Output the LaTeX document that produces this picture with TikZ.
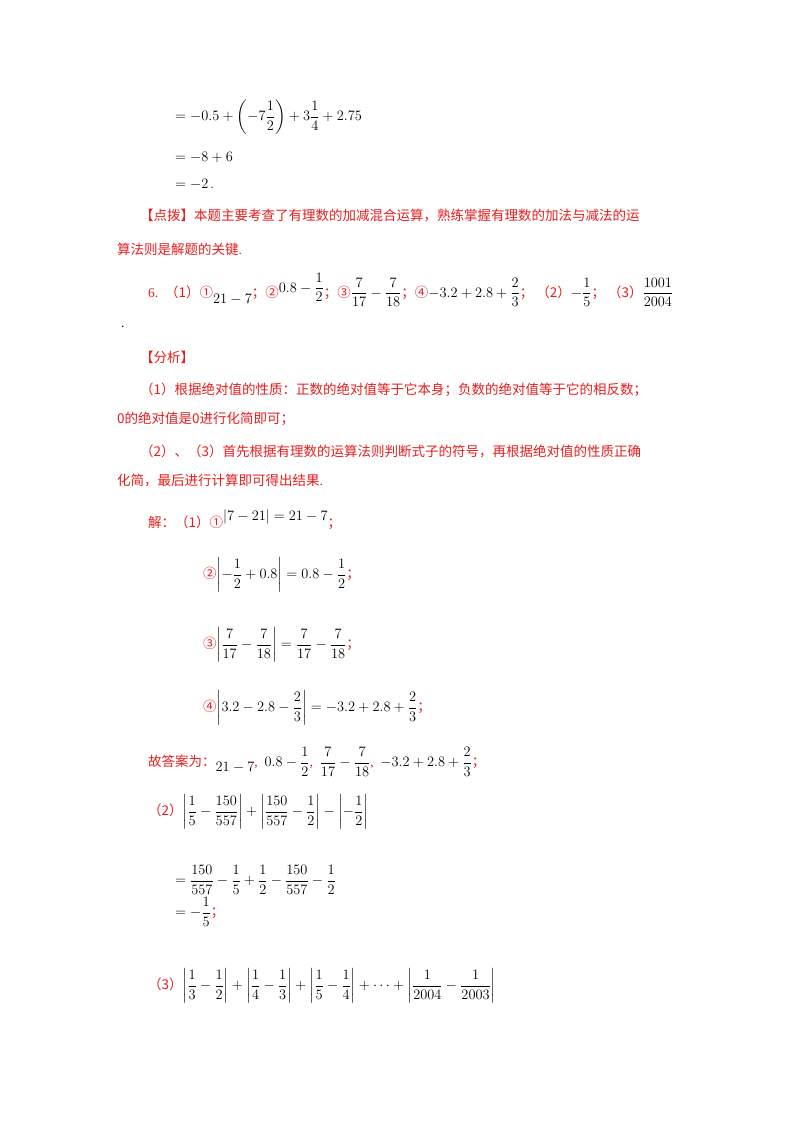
\documentclass[tikz,border=0pt]{standalone}
\usepackage{amsmath}
\usepackage{fontspec}
\setmainfont{Liberation Serif}
\newfontfamily\cjk{Noto Sans CJK SC}
\definecolor{rd}{RGB}{230,30,30}
\newcommand{\zh}[1]{{\cjk #1}}
\begin{document}
\begin{tikzpicture}[x=1pt,y=-1pt,
  t/.style={anchor=west,inner sep=0pt,font=\fontsize{13.5}{16}\selectfont},
  r/.style={t,text=rd}]
\useasboundingbox[fill=white] (0,0) rectangle (800,1132);
\node[t] (l1) at (175,117) {$=-0.5+\left(-7\dfrac12\right)+3\dfrac14+2.75$};
\node[t] (l2) at (175,157) {$=-8+6$};
\node[t] (l3) at (175,184) {$=-2$\textcolor{rd}{\,.}};
\node[r] (d1) at (140,216) {\zh{【点拨】本题主要考查了有理数的加减混合运算，熟练掌握有理数的加法与减法的运}};
\node[r] (d2) at (117,249) {\zh{算法则是解题的关键}.};
\node[t] (q6) at (148,290) {\textcolor{rd}{6.\ \ \zh{（1）①}}\raisebox{-6pt}{$21-7$}\textcolor{rd}{\zh{；②}}\raisebox{5pt}{$0.8-\dfrac12$}\textcolor{rd}{\zh{；③}}$\dfrac{7}{17}-\dfrac{7}{18}$\textcolor{rd}{\zh{；④}}$-3.2+2.8+\dfrac23$\textcolor{rd}{\zh{；\ （2）}}$-\dfrac15$\textcolor{rd}{\zh{；\ （3）}}$\dfrac{1001}{2004}$};
\node[t] (dot) at (121,327) {.};
\node[r] (f0) at (140,357) {\zh{【分析】}};
\node[r] (f1) at (140,390) {\zh{（1）根据绝对值的性质：正数的绝对值等于它本身；负数的绝对值等于它的相反数；}};
\node[r] (f2) at (117,419) {\zh{0的绝对值是0进行化简即可；}};
\node[r] (f3) at (140,451) {\zh{（2）、（3）首先根据有理数的运算法则判断式子的符号，再根据绝对值的性质正确}};
\node[r] (f4) at (117,481) {\zh{化简，最后进行计算即可得出结果}.};
\node[t] (s1) at (148,520) {\textcolor{rd}{\zh{解：（1）①}}\raisebox{7pt}{$|7-21|=21-7$}\textcolor{rd}{\zh{；}}};
\node[t] (s2) at (203,575) {\textcolor{rd}{\zh{②}}$\left|-\dfrac12+0.8\right|=0.8-\dfrac12$\textcolor{rd}{\zh{；}}};
\node[t] (s3) at (203,645) {\textcolor{rd}{\zh{③}}$\left|\dfrac{7}{17}-\dfrac{7}{18}\right|=\dfrac{7}{17}-\dfrac{7}{18}$\textcolor{rd}{\zh{；}}};
\node[t] (s4) at (203,708) {\textcolor{rd}{\zh{④}}$\left|3.2-2.8-\dfrac23\right|=-3.2+2.8+\dfrac23$\textcolor{rd}{\zh{；}}};
\node[t] (ans) at (148,762) {\textcolor{rd}{\zh{故答案为：}}\raisebox{-5pt}{$21-7$}\textcolor{rd}{,}\ \ $0.8-\dfrac12$\textcolor{rd}{,}\ \ $\dfrac{7}{17}-\dfrac{7}{18}$\textcolor{rd}{,}\ \ $-3.2+2.8+\dfrac23$\textcolor{rd}{\zh{；}}};
\node[t] (p2) at (148,812) {\textcolor{rd}{\zh{（2）}}$\left|\dfrac15-\dfrac{150}{557}\right|+\left|\dfrac{150}{557}-\dfrac12\right|-\left|-\dfrac12\right|$};
\node[t] (p2a) at (175,880) {$=\dfrac{150}{557}-\dfrac15+\dfrac12-\dfrac{150}{557}-\dfrac12$};
\node[t] (p2b) at (175,912) {$=-\dfrac15$\textcolor{rd}{\zh{；}}};
\node[t] (p3) at (148,986) {\textcolor{rd}{\zh{（3）}}$\left|\dfrac13-\dfrac12\right|+\left|\dfrac14-\dfrac13\right|+\left|\dfrac15-\dfrac14\right|+\cdots+\left|\dfrac1{2004}-\dfrac1{2003}\right|$};
\end{tikzpicture}
\end{document}
